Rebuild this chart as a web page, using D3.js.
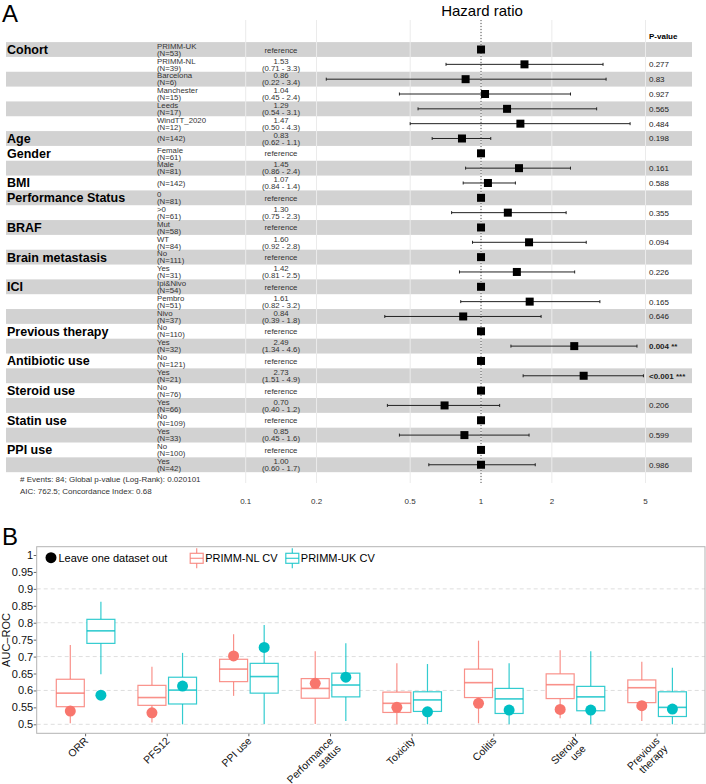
<!DOCTYPE html>
<html><head><meta charset="utf-8">
<script src="https://cdn.jsdelivr.net/npm/d3@7"></script>
<style>
body{margin:0;background:#fff}
svg{display:block;font-family:"Liberation Sans",Arial,Helvetica,sans-serif}
</style>
</head><body><svg id="c" width="706" height="784"></svg>
<script>
// ---------- Panel A data ----------
const rowVar = ["Cohort","","","","","","Age","Gender","","BMI","Performance Status","","BRAF","","Brain metastasis","","ICI","","","Previous therapy","","Antibiotic use","","Steroid use","","Statin use","","PPI use",""];
const rowLevel = ["PRIMM-UK","PRIMM-NL","Barcelona","Manchester","Leeds","WindTT_2020","","Female","Male","","0",">0","Mut","WT","No","Yes","Ipi&Nivo","Pembro","Nivo","No","Yes","No","Yes","No","Yes","No","Yes","No","Yes"];
const rowN = [53,39,6,15,17,12,142,61,81,142,81,61,58,84,111,31,54,51,37,110,32,121,21,76,66,109,33,100,42];
const hrEst = [1,1.53,0.86,1.04,1.29,1.47,0.83,1,1.45,1.07,1,1.30,1,1.60,1,1.42,1,1.61,0.84,1,2.49,1,2.73,1,0.70,1,0.85,1,1.00];
const hrLow = [null,0.71,0.22,0.45,0.54,0.50,0.62,null,0.86,0.84,null,0.75,null,0.92,null,0.81,null,0.82,0.39,null,1.34,null,1.51,null,0.40,null,0.45,null,0.60];
const hrHigh = [null,3.3,3.4,2.4,3.1,4.3,1.1,null,2.4,1.4,null,2.3,null,2.8,null,2.5,null,3.2,1.8,null,4.6,null,4.9,null,1.2,null,1.6,null,1.7];
const pValues = ["","0.277","0.83","0.927","0.565","0.484","0.198","","0.161","0.588","","0.355","","0.094","","0.226","","0.165","0.646","","0.004 **","","<0.001 ***","","0.206","","0.599","","0.986"];
const pBold = [20,22];
const hrTicks = [0.1,0.2,0.5,1,2,5];
const footLines = ["# Events: 84; Global p-value (Log-Rank): 0.020101","AIC: 762.5; Concordance Index: 0.68"];

// ---------- Panel B data ----------
const aucCats = ["ORR","PFS12","PPI use","Performance\nstatus","Toxicity","Colitis","Steroid\nuse","Previous\ntherapy"];
const nlLo  = [0.503,0.505,0.584,0.501,0.500,0.503,0.518,0.510];
const nlQ1  = [0.552,0.556,0.626,0.577,0.535,0.579,0.576,0.564];
const nlMed = [0.592,0.579,0.663,0.606,0.562,0.623,0.617,0.608];
const nlQ3  = [0.633,0.615,0.692,0.635,0.595,0.663,0.649,0.631];
const nlHi  = [0.734,0.670,0.766,0.716,0.680,0.747,0.719,0.685];
const nlLodo= [0.539,0.534,0.702,0.621,0.550,0.562,0.544,0.555];
const ukLo  = [0.648,0.500,0.501,0.510,0.500,0.500,0.500,0.500];
const ukQ1  = [0.739,0.560,0.592,0.581,0.538,0.532,0.540,0.523];
const ukMed = [0.776,0.601,0.641,0.616,0.572,0.575,0.581,0.550];
const ukQ3  = [0.810,0.639,0.680,0.651,0.596,0.606,0.612,0.596];
const ukHi  = [0.862,0.711,0.793,0.739,0.678,0.680,0.716,0.667];
const ukLodo= [0.586,0.613,0.727,0.639,0.537,0.542,0.542,0.545];
const aucTicks = [0.5,0.55,0.6,0.65,0.7,0.75,0.8,0.85,0.9,0.95,1];
const aucGrid = [0.5,0.6,0.7,0.8,0.9];
const seriesNames = ["PRIMM-NL CV","PRIMM-UK CV"];
const seriesColors = ["#F8766D","#00BFC4"];

const svg = d3.select("#c");

// ================= PANEL A =================
const A = svg.append("g");
A.append("text").attr("x",2).attr("y",22).attr("font-size",24).text("A");
A.append("text").attr("x",482).attr("y",16).attr("text-anchor","middle").attr("font-size",15).text("Hazard ratio");

const nRows = rowLevel.length;
const yRow = d3.scaleBand().domain(d3.range(nRows)).range([42.1, 42.1 + nRows*14.83]);
const rh = yRow.bandwidth();
const cy = i => yRow(i) + rh/2;
const xHR = d3.scaleLog().domain([0.1,5]).range([245.7,645.5]);

// bands
A.selectAll("rect.band").data(d3.range(nRows).filter(i=>i%2===0)).join("rect")
  .attr("x",6).attr("width",686).attr("y",i=>yRow(i)).attr("height",rh).attr("fill","#d2d2d2");

// vertical gridlines
A.selectAll("line.grid").data(hrTicks).join("line")
  .attr("x1",d=>xHR(d)).attr("x2",d=>xHR(d)).attr("y1",20).attr("y2",483)
  .attr("stroke","#ebebeb").attr("stroke-width",1);
// tick labels
A.selectAll("text.tick").data(hrTicks).join("text")
  .attr("x",d=>xHR(d)).attr("y",504).attr("text-anchor","middle").attr("font-size",8).attr("fill","#333")
  .text(d=>String(d));
// reference dotted line
A.append("line").attr("x1",xHR(1)).attr("x2",xHR(1)).attr("y1",20).attr("y2",483)
  .attr("stroke","#555").attr("stroke-width",1).attr("stroke-dasharray","1,2");

// variable labels
A.selectAll("text.var").data(d3.range(nRows).filter(i=>rowVar[i])).join("text")
  .attr("x",7).attr("y",i=>cy(i)+4.5).attr("font-size",12.5).attr("font-weight","bold").text(i=>rowVar[i]);

// level labels
d3.range(nRows).forEach(i=>{
  const g = A.append("g").attr("font-size",7.8).attr("fill","#333");
  if(rowLevel[i]){
    g.append("text").attr("x",157).attr("y",cy(i)-0.8).text(rowLevel[i]);
    g.append("text").attr("x",157).attr("y",cy(i)+6.2).text("(N="+rowN[i]+")");
  } else {
    g.append("text").attr("x",157).attr("y",cy(i)+3).text("(N="+rowN[i]+")");
  }
  if(hrLow[i]==null){
    g.append("text").attr("x",281).attr("y",cy(i)+3).attr("text-anchor","middle").text("reference");
  } else {
    g.append("text").attr("x",281).attr("y",cy(i)-0.8).attr("text-anchor","middle").text(hrEst[i].toFixed(2));
    g.append("text").attr("x",281).attr("y",cy(i)+6.2).attr("text-anchor","middle")
      .text("("+hrLow[i].toFixed(2)+" - "+hrHigh[i].toFixed(1)+")");
  }
  if(pValues[i]){
    g.append("text").attr("x",649).attr("y",cy(i)+3).attr("fill","#222").attr("font-size",8)
      .attr("font-weight",pBold.includes(i)?"bold":"normal").text(pValues[i]);
  }
});
A.append("text").attr("x",649).attr("y",39).attr("font-size",8).attr("font-weight","bold").text("P-value");

// CIs
const ciRows = d3.range(nRows).filter(i=>hrLow[i]!=null);
A.selectAll("line.ci").data(ciRows).join("line")
  .attr("x1",i=>xHR(hrLow[i])).attr("x2",i=>xHR(hrHigh[i])).attr("y1",cy).attr("y2",cy)
  .attr("stroke","#222").attr("stroke-width",1);
["lo","hi"].forEach(k=>{
  A.selectAll("line.cap"+k).data(ciRows).join("line")
    .attr("x1",i=>xHR(k==="lo"?hrLow[i]:hrHigh[i])).attr("x2",i=>xHR(k==="lo"?hrLow[i]:hrHigh[i]))
    .attr("y1",i=>cy(i)-1.5).attr("y2",i=>cy(i)+1.5).attr("stroke","#222").attr("stroke-width",1);
});
// squares
A.selectAll("rect.sq").data(d3.range(nRows)).join("rect")
  .attr("x",i=>xHR(hrEst[i])-4).attr("y",i=>cy(i)-4).attr("width",8).attr("height",8).attr("fill","#000");

// footnote
A.selectAll("text.foot").data(footLines).join("text")
  .attr("x",20).attr("y",(d,i)=>482+i*11.5).attr("font-size",8).attr("fill","#333").text(d=>d);

// ================= PANEL B =================
const B = svg.append("g");
B.append("text").attr("x",2).attr("y",545).attr("font-size",24).text("B");
const pL=36.7, pR=705, pT=546.7, pB=733.3;
const yA = d3.scaleLinear().domain([0.5,1]).range([724.3,555]);
const xC = d3.scalePoint().domain(aucCats).range([85.6,657.1]);
const dodge = 15.3, bw = 28;

// grid
B.selectAll("line.g").data(aucGrid).join("line")
  .attr("x1",pL).attr("x2",pR).attr("y1",d=>yA(d)).attr("y2",d=>yA(d))
  .attr("stroke","#dedede").attr("stroke-width",1).attr("stroke-dasharray","4,3");

// y axis
const yAxis = d3.axisLeft(yA).tickValues(aucTicks).tickSize(3).tickFormat(d=>String(+d.toFixed(2)));
const ya = B.append("g").attr("transform",`translate(${pL},0)`).call(yAxis);
ya.select(".domain").remove();
ya.selectAll("line").attr("stroke","#666");
ya.selectAll("text").attr("font-size",11).attr("fill","#111").attr("font-family",null).attr("dx",0).attr("x",-3.5);

// x axis ticks
B.selectAll("line.xt").data(aucCats).join("line")
  .attr("x1",d=>xC(d)).attr("x2",d=>xC(d)).attr("y1",pB).attr("y2",pB+3).attr("stroke","#666");
aucCats.forEach(c=>{
  const lines = c.split("\n");
  const t = B.append("g").attr("transform",`translate(${xC(c)-1},${pB+4}) rotate(-45)`);
  lines.forEach((l,j)=>{
    t.append("text").attr("x",0).attr("y",6+j*11).attr("text-anchor","end")
      .attr("font-size",10.5).attr("fill","#111").text(l);
  });
});
// y label
B.append("text").attr("transform",`translate(10,${(pT+pB)/2}) rotate(-90)`).attr("text-anchor","middle")
  .attr("font-size",11).attr("fill","#111").text("AUC\u2013ROC");

// boxes
const series = [
  {lo:nlLo,q1:nlQ1,med:nlMed,q3:nlQ3,hi:nlHi,dot:nlLodo,off:-dodge,col:seriesColors[0]},
  {lo:ukLo,q1:ukQ1,med:ukMed,q3:ukQ3,hi:ukHi,dot:ukLodo,off:dodge,col:seriesColors[1]}
];
series.forEach(s=>{
  const g = B.append("g").attr("stroke",s.col).attr("stroke-opacity",0.8).attr("stroke-width",1.2).attr("fill","none");
  aucCats.forEach((c,i)=>{
    const x = xC(c)+s.off;
    g.append("line").attr("x1",x).attr("x2",x).attr("y1",yA(s.hi[i])).attr("y2",yA(s.q3[i]));
    g.append("line").attr("x1",x).attr("x2",x).attr("y1",yA(s.q1[i])).attr("y2",yA(s.lo[i]));
    g.append("rect").attr("x",x-bw/2).attr("width",bw).attr("y",yA(s.q3[i])).attr("height",yA(s.q1[i])-yA(s.q3[i])).attr("fill","#fff");
    g.append("line").attr("x1",x-bw/2).attr("x2",x+bw/2).attr("y1",yA(s.med[i])).attr("y2",yA(s.med[i])).attr("stroke-width",1.6);
  });
});
series.forEach(s=>{
  B.selectAll(null).data(aucCats).join("circle")
    .attr("cx",(c)=>xC(c)+s.off).attr("cy",(c,i)=>yA(s.dot[i])).attr("r",5.5).attr("fill",s.col);
});

// panel border
B.append("rect").attr("x",pL).attr("y",pT).attr("width",pR-pL).attr("height",pB-pT)
  .attr("fill","none").attr("stroke","#b3b3b3").attr("stroke-width",1);

// legend
B.append("circle").attr("cx",51).attr("cy",557.7).attr("r",5.5).attr("fill","#000");
B.append("text").attr("x",58.5).attr("y",561.7).attr("font-size",11).text("Leave one dataset out");
const legX = [196.7,292.3];
series.forEach((s,k)=>{
  const g = B.append("g").attr("stroke",s.col).attr("stroke-opacity",0.8).attr("stroke-width",1.2).attr("fill","none");
  const x = legX[k];
  g.append("line").attr("x1",x).attr("x2",x).attr("y1",548.3).attr("y2",553.3);
  g.append("line").attr("x1",x).attr("x2",x).attr("y1",563.3).attr("y2",568.3);
  g.append("rect").attr("x",x-6.5).attr("y",553.3).attr("width",13).attr("height",10).attr("fill","#fff");
  g.append("line").attr("x1",x-6.5).attr("x2",x+6.5).attr("y1",558.3).attr("y2",558.3);
  B.append("text").attr("x",x+8.5).attr("y",561.7).attr("font-size",11).text(seriesNames[k]);
});
</script></body></html>
